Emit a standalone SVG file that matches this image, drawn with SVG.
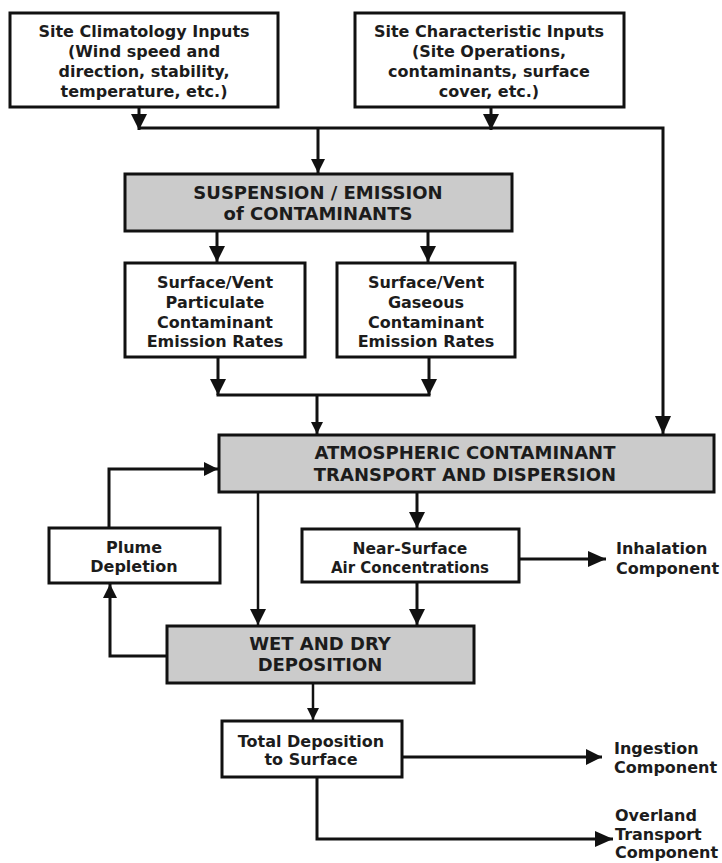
<svg xmlns="http://www.w3.org/2000/svg" width="722" height="863" viewBox="0 0 722 863">
<style>
.box{fill:#ffffff;stroke:#111;stroke-width:3}
.gray{fill:#cbcbcb;stroke:#111;stroke-width:3}
.t{font-family:"DejaVu Sans","Liberation Sans",sans-serif;font-weight:bold;font-size:16px;fill:#1c1c1c;text-anchor:middle}
.tc{font-family:"DejaVu Sans","Liberation Sans",sans-serif;font-weight:bold;font-size:18px;fill:#1c1c1c;text-anchor:middle}
.tl{font-family:"DejaVu Sans","Liberation Sans",sans-serif;font-weight:bold;font-size:16px;fill:#1c1c1c;text-anchor:start}
.c{fill:none;stroke:#111;stroke-width:3;stroke-linejoin:miter}
.cs{fill:none;stroke:#111;stroke-width:2.5}
</style>
<defs>
<marker id="big" viewBox="0 0 16 16" refX="16" refY="8" markerWidth="16" markerHeight="16" orient="auto" markerUnits="userSpaceOnUse"><path d="M0,0 L16,8 L0,16 z" fill="#111"/></marker>
<marker id="mid" viewBox="0 0 14 14" refX="14" refY="7" markerWidth="14" markerHeight="14" orient="auto" markerUnits="userSpaceOnUse"><path d="M0,0 L14,7 L0,14 z" fill="#111"/></marker>
<marker id="sml" viewBox="0 0 12 12" refX="12" refY="6" markerWidth="12" markerHeight="12" orient="auto" markerUnits="userSpaceOnUse"><path d="M0,0 L12,6 L0,12 z" fill="#111"/></marker>
<marker id="wide" viewBox="0 0 18 16" refX="18" refY="8" markerWidth="18" markerHeight="16" orient="auto" markerUnits="userSpaceOnUse"><path d="M0,0 L18,8 L0,16 z" fill="#111"/></marker>
</defs>

<g id="connectors">
<path class="c" d="M139,107 L139,130" marker-end="url(#big)"/>
<path class="c" d="M491,107 L491,130" marker-end="url(#big)"/>
<path class="c" d="M139,128 L663,128 L663,434" marker-end="url(#wide)"/>
<path class="c" d="M318,128 L318,173" marker-end="url(#mid)"/>
<path class="c" d="M217,231 L217,262" marker-end="url(#big)"/>
<path class="c" d="M428,231 L428,262" marker-end="url(#big)"/>
<path class="c" d="M218,357 L218,395" marker-end="url(#big)"/>
<path class="c" d="M429,357 L429,395" marker-end="url(#big)"/>
<path class="c" d="M216.5,395 L430.5,395"/>
<path class="c" d="M317,395 L317,434" marker-end="url(#sml)"/>
<path class="c" d="M109,528 L109,469 L218,469" marker-end="url(#mid)"/>
<path class="cs" d="M258,492 L258,625" marker-end="url(#big)"/>
<path class="c" d="M417,492 L417,528" marker-end="url(#big)"/>
<path class="c" d="M519,559 L606,559" marker-end="url(#wide)"/>
<path class="c" d="M417,582 L417,625" marker-end="url(#big)"/>
<path class="c" d="M167,656 L110,656 L110,584" marker-end="url(#mid)"/>
<path class="cs" d="M313,683 L313,720" marker-end="url(#sml)"/>
<path class="c" d="M402,757 L602,757" marker-end="url(#big)"/>
<path class="c" d="M317,777 L317,839 L613,839" marker-end="url(#wide)"/>
</g>

<g id="climatology">
<rect class="box" x="10" y="13" width="268" height="94"/>
<text class="t" x="144" y="37">Site Climatology Inputs</text>
<text class="t" x="144" y="57">(Wind speed and</text>
<text class="t" x="144" y="77">direction, stability,</text>
<text class="t" x="144" y="97">temperature, etc.)</text>
</g>

<g id="characteristic">
<rect class="box" x="355" y="13" width="269" height="94"/>
<text class="t" x="489" y="37">Site Characteristic Inputs</text>
<text class="t" x="489" y="57">(Site Operations,</text>
<text class="t" x="489" y="77">contaminants, surface</text>
<text class="t" x="489" y="97">cover, etc.)</text>
</g>

<g id="suspension">
<rect class="gray" x="125" y="174" width="387" height="57"/>
<text class="tc" x="318" y="199">SUSPENSION / EMISSION</text>
<text class="tc" x="318" y="220">of CONTAMINANTS</text>
</g>

<g id="particulate">
<rect class="box" x="125" y="263" width="180" height="94"/>
<text class="t" x="215" y="288">Surface/Vent</text>
<text class="t" x="215" y="308">Particulate</text>
<text class="t" x="215" y="328">Contaminant</text>
<text class="t" x="215" y="347">Emission Rates</text>
</g>

<g id="gaseous">
<rect class="box" x="337" y="263" width="178" height="94"/>
<text class="t" x="426" y="288">Surface/Vent</text>
<text class="t" x="426" y="308">Gaseous</text>
<text class="t" x="426" y="328">Contaminant</text>
<text class="t" x="426" y="347">Emission Rates</text>
</g>

<g id="atmospheric">
<rect class="gray" x="219" y="435" width="495" height="57"/>
<text class="tc" x="465" y="459">ATMOSPHERIC CONTAMINANT</text>
<text class="tc" x="465" y="481">TRANSPORT AND DISPERSION</text>
</g>

<g id="plume">
<rect class="box" x="49" y="528" width="171" height="55"/>
<text class="t" x="134" y="553">Plume</text>
<text class="t" x="134" y="572">Depletion</text>
</g>

<g id="nearsurface">
<rect class="box" x="302" y="529" width="217" height="53"/>
<text class="t" x="410" y="554" style="font-size:15.5px">Near-Surface</text>
<text class="t" x="410" y="573" style="font-size:15px">Air Concentrations</text>
</g>

<g id="inhalation">
<text class="tl" x="616" y="554">Inhalation</text>
<text class="tl" x="616" y="574">Component</text>
</g>

<g id="wetdry">
<rect class="gray" x="167" y="626" width="307" height="57"/>
<text class="tc" x="320" y="650">WET AND DRY</text>
<text class="tc" x="320" y="671">DEPOSITION</text>
</g>

<g id="totaldeposition">
<rect class="box" x="222" y="721" width="180" height="56"/>
<text class="t" x="311" y="747">Total Deposition</text>
<text class="t" x="311" y="765">to Surface</text>
</g>

<g id="ingestion">
<text class="tl" x="614" y="754">Ingestion</text>
<text class="tl" x="614" y="773">Component</text>
</g>

<g id="overland">
<text class="tl" x="615" y="821">Overland</text>
<text class="tl" x="615" y="840">Transport</text>
<text class="tl" x="615" y="858">Component</text>
</g>
</svg>
